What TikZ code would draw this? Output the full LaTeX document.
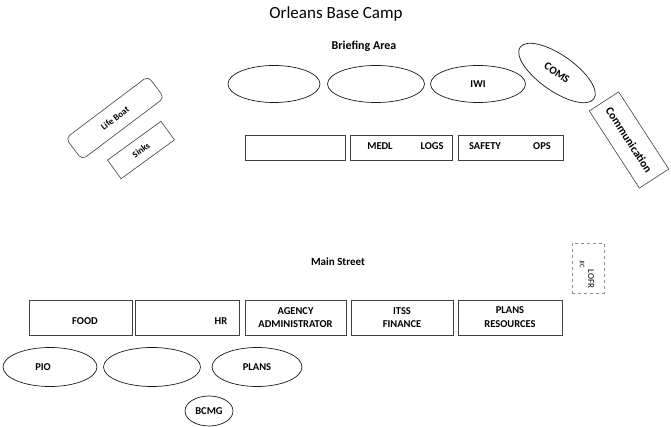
\documentclass[tikz,border=0pt]{standalone}
\usepackage{fontspec}
\setmainfont{Carlito}
\usetikzlibrary{shapes.geometric}
\begin{document}
\begin{tikzpicture}[x=1pt,y=-1pt,
  ell/.style={ellipse,draw=black!90,line width=0.7pt,inner sep=0pt,minimum width=#1,minimum height=37pt},
  boxx/.style={rectangle,draw=black!75,line width=0.6pt,inner sep=0pt,minimum width=#1},
  lbl/.style={font=\fontsize{10.5}{12}\selectfont\bfseries,inner sep=0pt,align=center},
  ttl/.style={font=\fontsize{17}{20}\selectfont},
  sub/.style={font=\fontsize{12}{14}\selectfont\bfseries}]
\path[use as bounding box] (0,0) rectangle (671,427);
% titles
\node[ttl] (title) at (336,14) {Orleans Base Camp};
\node[sub] (brief) at (364,46) {Briefing Area};
\node[sub,font=\fontsize{11}{13}\selectfont\bfseries] (mainst) at (338,262) {Main Street};
% top ellipses
\node[ell=92pt,minimum height=37pt] (e1) at (274,84) {};
\node[ell=97pt,minimum height=37pt] (e2) at (376,84) {};
\node[ell=95pt,minimum height=37pt,lbl] (iwi) at (478,84) {IWI};
% top boxes
\node[boxx=100pt,minimum height=25pt] (b1) at (295,147.5) {};
\node[boxx=102pt,minimum height=25pt] (b2) at (401,147.5) {};
\node[boxx=105pt,minimum height=25pt] (b3) at (510.5,147.5) {};
\node[lbl] (medl) at (380,146) {MEDL};
\node[lbl] (logs) at (432,146) {LOGS};
\node[lbl] (safety) at (485,146) {SAFETY};
\node[lbl] (ops) at (542,146) {OPS};
% COMS and Communication
\node[ell=90pt,minimum height=36pt,rotate=-35,lbl,font=\fontsize{11}{13}\selectfont\bfseries] (coms) at (557,73) {COMS};
\node[boxx=92pt,minimum height=35pt,rotate=-57,lbl,font=\fontsize{11.5}{13}\selectfont\bfseries] (comm) at (629,140) {Communication};
% Life Boat, Sinks
\node[boxx=103pt,minimum height=27pt,rounded corners=5pt,rotate=37,lbl,font=\fontsize{9}{11}\selectfont\bfseries] (life) at (115,118) {Life Boat};
\node[boxx=66pt,minimum height=23pt,rotate=36,lbl,font=\fontsize{9}{11}\selectfont\bfseries] (sinks) at (141,150) {Sinks};
% JIC / LOFR
\node[rectangle,draw=black!45,dashed,line width=0.5pt,minimum width=32pt,minimum height=50pt] (jicbox) at (588,268) {};
\node[lbl,font=\fontsize{7}{8}\selectfont,rotate=-90] (jic) at (582,264) {JIC};
\node[lbl,font=\fontsize{9}{10}\selectfont,rotate=-90] (lofr) at (591,279) {LOFR};
% bottom boxes
\node[boxx=103pt,minimum height=35pt] (food) at (80.5,317.5) {};
\node[boxx=104pt,minimum height=35pt] (hr) at (187,317.5) {};
\node[boxx=101pt,minimum height=35pt,lbl,font=\fontsize{10.5}{13}\selectfont\bfseries] (agency) at (295.5,317.5) {AGENCY\\ADMINISTRATOR};
\node[boxx=102pt,minimum height=35pt,lbl,font=\fontsize{10.5}{13}\selectfont\bfseries] (itss) at (402,317.5) {ITSS\\FINANCE};
\node[boxx=104pt,minimum height=35pt,lbl,font=\fontsize{10.5}{14}\selectfont\bfseries] (plansres) at (510,317.5) {PLANS\\RESOURCES};
\node[lbl] (foodt) at (85,321) {FOOD};
\node[lbl] (hrt) at (221,321) {HR};
% bottom ellipses
\node[ell=94pt,minimum height=39pt] (pio) at (50,367) {};
\node[lbl] (piot) at (43,367) {PIO};
\node[ell=97pt,minimum height=39pt] (e5) at (152,367) {};
\node[ell=90pt,minimum height=39pt,lbl] (plans) at (257,367) {PLANS};
\node[ell=48pt,minimum height=30pt,lbl] (bcmg) at (209,411) {BCMG};
\end{tikzpicture}
\end{document}
